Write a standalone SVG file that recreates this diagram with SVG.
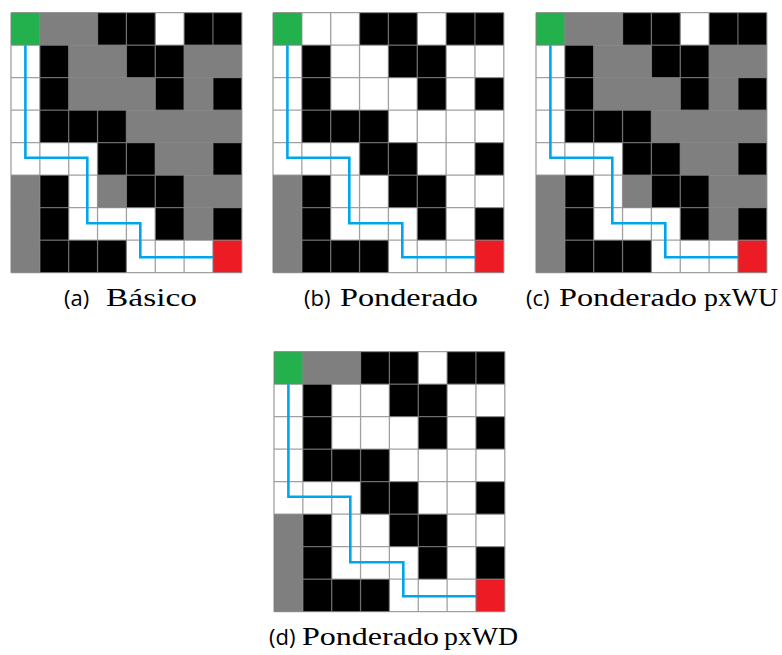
<svg xmlns="http://www.w3.org/2000/svg" xmlns:xlink="http://www.w3.org/1999/xlink" width="782" height="655" viewBox="0 0 782 655">
<style>
.k{fill:#000}
.g{fill:#7f7f7f}
.s{fill:#22b14c}
.r{fill:#ed1c24}
.lines{fill:none;stroke:#808080;stroke-opacity:0.75;stroke-width:1.3}
.route{fill:none;stroke:#00a6ea;stroke-width:2.6;stroke-linejoin:miter}
.lbl{font-family:"Open Sans","DejaVu Sans",sans-serif;font-size:22px;fill:#000}
.ser{font-family:"Liberation Serif","Times New Roman",serif;font-size:25px;fill:#000}
</style>
<defs>
<g id="blacks">
<rect class="k" x="86.55" y="0" width="28.85" height="32.5"/><rect class="k" x="115.4" y="0" width="28.85" height="32.5"/><rect class="k" x="173.1" y="0" width="28.85" height="32.5"/><rect class="k" x="201.95" y="0" width="28.85" height="32.5"/>
<rect class="k" x="28.85" y="32.5" width="28.85" height="32.5"/><rect class="k" x="115.4" y="32.5" width="28.85" height="32.5"/><rect class="k" x="144.25" y="32.5" width="28.85" height="32.5"/>
<rect class="k" x="28.85" y="65" width="28.85" height="32.5"/><rect class="k" x="144.25" y="65" width="28.85" height="32.5"/><rect class="k" x="201.95" y="65" width="28.85" height="32.5"/>
<rect class="k" x="28.85" y="97.5" width="28.85" height="32.5"/><rect class="k" x="57.7" y="97.5" width="28.85" height="32.5"/><rect class="k" x="86.55" y="97.5" width="28.85" height="32.5"/>
<rect class="k" x="86.55" y="130" width="28.85" height="32.5"/><rect class="k" x="115.4" y="130" width="28.85" height="32.5"/><rect class="k" x="201.95" y="130" width="28.85" height="32.5"/>
<rect class="k" x="28.85" y="162.5" width="28.85" height="32.5"/><rect class="k" x="115.4" y="162.5" width="28.85" height="32.5"/><rect class="k" x="144.25" y="162.5" width="28.85" height="32.5"/>
<rect class="k" x="28.85" y="195" width="28.85" height="32.5"/><rect class="k" x="144.25" y="195" width="28.85" height="32.5"/><rect class="k" x="201.95" y="195" width="28.85" height="32.5"/>
<rect class="k" x="28.85" y="227.5" width="28.85" height="32.5"/><rect class="k" x="57.7" y="227.5" width="28.85" height="32.5"/><rect class="k" x="86.55" y="227.5" width="28.85" height="32.5"/>
<rect class="g" x="0" y="162.5" width="28.85" height="97.5"/>
<rect class="s" x="0" y="0" width="28.85" height="32.5"/>
<rect class="r" x="201.95" y="227.5" width="28.85" height="32.5"/>
</g>
<g id="grays">
<rect class="g" x="28.85" y="0" width="57.7" height="32.5"/>
<rect class="g" x="57.7" y="32.5" width="57.7" height="32.5"/><rect class="g" x="173.1" y="32.5" width="57.7" height="32.5"/>
<rect class="g" x="57.7" y="65" width="86.55" height="32.5"/><rect class="g" x="173.1" y="65" width="28.85" height="32.5"/>
<rect class="g" x="115.4" y="97.5" width="115.4" height="32.5"/>
<rect class="g" x="144.25" y="130" width="57.7" height="32.5"/>
<rect class="g" x="86.55" y="162.5" width="28.85" height="32.5"/><rect class="g" x="173.1" y="162.5" width="57.7" height="32.5"/>
<rect class="g" x="173.1" y="195" width="28.85" height="32.5"/>
</g>
<path id="lines" class="lines" d="M0,0V260M28.85,0V260M57.7,0V260M86.55,0V260M115.4,0V260M144.25,0V260M173.1,0V260M201.95,0V260M230.8,0V260M0,0H230.8M0,32.5H230.8M0,65H230.8M0,97.5H230.8M0,130H230.8M0,162.5H230.8M0,195H230.8M0,227.5H230.8M0,260H230.8"/>
<path id="route" class="route" d="M14.4,32.5V145H76.3V210.5H129.3V244.5H202"/>
</defs>
<g id="grid-a" transform="translate(11,12.7)">
<rect x="0" y="0" width="230.8" height="260" fill="#fff"/>
<use xlink:href="#grays"/><use xlink:href="#blacks"/><use xlink:href="#lines"/><use xlink:href="#route"/>
</g>
<g id="grid-b" transform="translate(273,12.7)">
<rect x="0" y="0" width="230.8" height="260" fill="#fff"/>
<use xlink:href="#blacks"/><use xlink:href="#lines"/><use xlink:href="#route"/>
</g>
<g id="grid-c" transform="translate(536,12.7)">
<rect x="0" y="0" width="230.8" height="260" fill="#fff"/>
<use xlink:href="#grays"/><use xlink:href="#blacks"/><use xlink:href="#lines"/><use xlink:href="#route"/>
</g>
<g id="grid-d" transform="translate(274,351.7)">
<rect x="0" y="0" width="230.8" height="260" fill="#fff"/>
<rect class="g" x="28.85" y="0" width="57.7" height="32.5"/>
<use xlink:href="#blacks"/><use xlink:href="#lines"/><use xlink:href="#route"/>
</g>
<g id="labels">
<text class="lbl" x="64" y="306">(a)</text>
<text class="ser" x="106" y="306" textLength="91" lengthAdjust="spacingAndGlyphs">Básico</text>
<text class="lbl" x="304" y="306">(b)</text>
<text class="ser" x="340" y="306" textLength="138" lengthAdjust="spacingAndGlyphs">Ponderado</text>
<text class="lbl" x="526" y="306">(c)</text>
<text class="ser" x="559" y="306" textLength="138" lengthAdjust="spacingAndGlyphs">Ponderado</text>
<text class="ser" x="704" y="306" textLength="74" lengthAdjust="spacingAndGlyphs">pxWU</text>
<text class="lbl" x="269" y="645">(d)</text>
<text class="ser" x="302" y="645" textLength="137" lengthAdjust="spacingAndGlyphs">Ponderado</text>
<text class="ser" x="444" y="645" textLength="74" lengthAdjust="spacingAndGlyphs">pxWD</text>
</g>
</svg>
